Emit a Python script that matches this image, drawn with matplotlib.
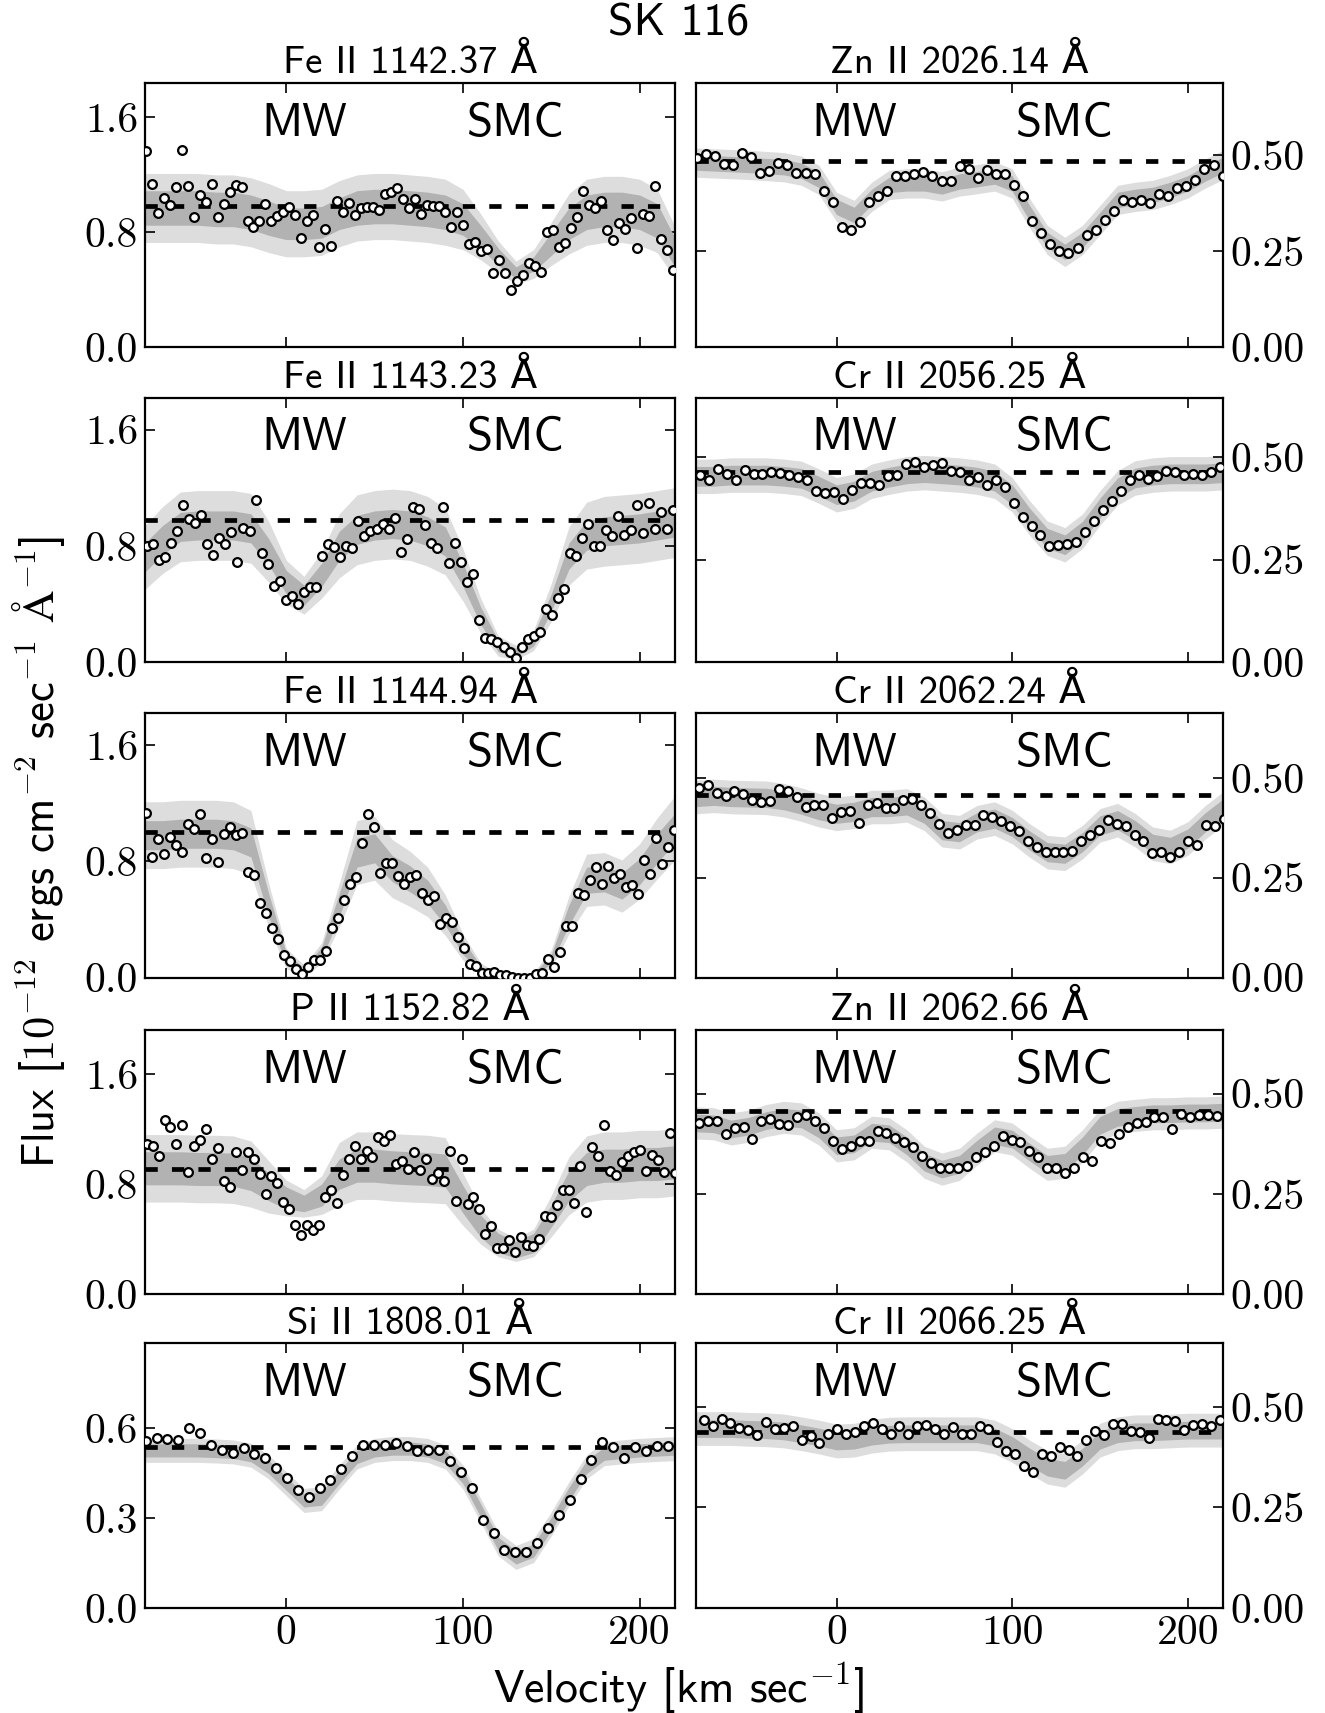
import numpy as np
import matplotlib
matplotlib.use("Agg")
import matplotlib.pyplot as plt

plt.rcParams["mathtext.fontset"] = "cm"
plt.rcParams["font.family"] = ["cmss10", "DejaVu Sans"]
plt.rcParams["axes.unicode_minus"] = False

# model grid for the shaded bands (km/s)
model_v = np.arange(-80, 221, 10)

# ---- Fe II 1142.37 ----
fe1142_vrange = (-79.6, 218.8)
fe1142_flux = [1.363, 1.137, 0.932, 1.037, 0.990, 1.113, 1.374, 1.123, 0.908, 1.060,
               1.009, 1.137, 0.908, 0.997, 1.083, 1.130, 1.113, 0.880, 0.839, 0.880,
               0.997, 0.878, 0.915, 0.943, 0.974, 0.920, 0.764, 0.880, 0.920, 0.699,
               0.827, 0.706, 1.020, 0.943, 1.006, 0.920, 0.967, 0.978, 0.974, 0.955,
               1.067, 1.083, 1.111, 1.032, 0.967, 1.030, 0.927, 0.990, 0.983, 0.983,
               0.939, 0.839, 0.939, 0.850, 0.722, 0.734, 0.669, 0.683, 0.517, 0.610,
               0.517, 0.396, 0.461, 0.505, 0.587, 0.564, 0.524, 0.804, 0.815, 0.699,
               0.729, 0.832, 0.908, 1.090, 0.990, 0.967, 1.018, 0.820, 0.745, 0.862,
               0.822, 0.901, 0.694, 0.927, 0.913, 1.125, 0.757, 0.680, 0.536]
fe1142_model = [0.97, 0.97, 0.97, 0.97, 0.96, 0.96, 0.94, 0.90, 0.86, 0.86, 0.87,
                0.93, 0.97, 0.98, 0.98, 0.97, 0.96, 0.94, 0.89, 0.77, 0.63, 0.52,
                0.58, 0.72, 0.86, 0.94, 0.96, 0.96, 0.94, 0.88, 0.66]
fe1142_w1 = [0.12, 0.12, 0.12, 0.12, 0.12, 0.12, 0.12, 0.12, 0.11, 0.11, 0.11,
             0.11, 0.12, 0.12, 0.12, 0.12, 0.12, 0.12, 0.11, 0.08, 0.06, 0.04,
             0.05, 0.08, 0.11, 0.12, 0.12, 0.12, 0.12, 0.12, 0.10]
fe1142_w2 = [0.24, 0.24, 0.24, 0.24, 0.24, 0.24, 0.24, 0.24, 0.23, 0.23, 0.23,
             0.23, 0.23, 0.23, 0.23, 0.23, 0.23, 0.23, 0.21, 0.16, 0.11, 0.08,
             0.10, 0.15, 0.21, 0.23, 0.23, 0.23, 0.23, 0.22, 0.18]

# ---- Fe II 1143.23 ----
fe1143_vrange = (-79.0, 218.8)
fe1143_flux = [0.802, 0.814, 0.699, 0.722, 0.821, 0.899, 1.079, 0.982, 0.957, 1.010,
               0.814, 0.738, 0.853, 0.814, 0.895, 0.687, 0.922, 0.902, 1.114, 0.752,
               0.676, 0.526, 0.556, 0.429, 0.457, 0.399, 0.480, 0.514, 0.519, 0.729,
               0.814, 0.795, 0.722, 0.802, 0.786, 0.968, 0.865, 0.899, 0.913, 0.952,
               0.913, 0.994, 0.756, 0.849, 1.068, 1.056, 0.945, 0.821, 0.784, 1.068,
               0.680, 0.819, 0.692, 0.553, 0.606, 0.291, 0.166, 0.161, 0.138, 0.106,
               0.069, 0.030, 0.106, 0.157, 0.180, 0.210, 0.364, 0.323, 0.438, 0.503,
               0.752, 0.733, 0.853, 0.952, 0.802, 0.802, 0.906, 0.865, 1.003, 0.872,
               0.906, 1.084, 0.890, 1.095, 0.918, 1.033, 0.918, 1.045]
fe1143_model = [0.72, 0.84, 0.93, 0.94, 0.94, 0.94, 0.92, 0.76, 0.55, 0.46, 0.60,
                0.80, 0.91, 0.94, 0.95, 0.94, 0.90, 0.83, 0.60, 0.32, 0.11, 0.065,
                0.15, 0.41, 0.73, 0.87, 0.90, 0.91, 0.92, 0.94, 0.96]
fe1143_w1 = [0.10, 0.10, 0.10, 0.10, 0.10, 0.10, 0.10, 0.09, 0.08, 0.07, 0.08,
             0.10, 0.10, 0.10, 0.10, 0.10, 0.10, 0.10, 0.08, 0.06, 0.04, 0.03,
             0.04, 0.06, 0.09, 0.10, 0.10, 0.10, 0.10, 0.10, 0.10]
fe1143_w2 = [0.22, 0.23, 0.24, 0.24, 0.24, 0.24, 0.24, 0.21, 0.15, 0.13, 0.16,
             0.22, 0.24, 0.24, 0.24, 0.24, 0.24, 0.23, 0.18, 0.12, 0.07, 0.05,
             0.07, 0.13, 0.20, 0.23, 0.24, 0.24, 0.24, 0.24, 0.24]

# ---- Fe II 1144.94 ----
fe1144_vrange = (-79.6, 219.5)
fe1144_flux = [1.134, 0.830, 0.952, 0.851, 0.968, 0.915, 0.865, 1.054, 1.021, 1.125,
               0.823, 0.957, 0.795, 0.985, 1.033, 0.980, 0.994, 0.726, 0.708, 0.514,
               0.445, 0.341, 0.265, 0.157, 0.111, 0.058, 0.028, 0.074, 0.120, 0.122,
               0.184, 0.339, 0.408, 0.537, 0.646, 0.692, 0.929, 1.125, 1.038, 0.722,
               0.786, 0.786, 0.696, 0.641, 0.692, 0.703, 0.581, 0.535, 0.565, 0.369,
               0.410, 0.380, 0.277, 0.201, 0.092, 0.081, 0.030, 0.030, 0.039, 0.021,
               0.016, 0.003, -0.004, -0.002, 0.000, 0.023, 0.030, 0.131, 0.074, 0.173,
               0.357, 0.357, 0.583, 0.570, 0.673, 0.763, 0.646, 0.768, 0.685, 0.715,
               0.623, 0.634, 0.576, 0.807, 0.715, 0.961, 0.784, 0.899, 1.019]
fe1144_model = [0.98, 0.98, 0.99, 0.99, 0.99, 0.98, 0.93, 0.50, 0.13, 0.046, 0.17,
                0.50, 0.86, 0.89, 0.75, 0.68, 0.59, 0.43, 0.21, 0.06, 0.012, 0.0,
                0.016, 0.13, 0.43, 0.67, 0.68, 0.63, 0.73, 0.89, 1.03]
fe1144_w1 = [0.10, 0.10, 0.10, 0.10, 0.10, 0.10, 0.10, 0.08, 0.04, 0.02, 0.04,
             0.08, 0.10, 0.10, 0.09, 0.09, 0.08, 0.07, 0.05, 0.02, 0.01, 0.01,
             0.01, 0.03, 0.07, 0.09, 0.09, 0.09, 0.09, 0.10, 0.10]
fe1144_w2 = [0.23, 0.23, 0.23, 0.23, 0.23, 0.23, 0.22, 0.15, 0.07, 0.04, 0.07,
             0.15, 0.22, 0.22, 0.20, 0.19, 0.17, 0.14, 0.09, 0.04, 0.02, 0.015,
             0.02, 0.06, 0.13, 0.18, 0.18, 0.18, 0.19, 0.21, 0.22]

# ---- P II 1152.82 ----
p1152_vrange = (-79.0, 220.3)
p1152_flux = [1.093, 1.080, 1.002, 1.268, 1.215, 1.093, 1.227, 0.890, 1.080, 1.117,
              1.202, 0.983, 1.063, 0.820, 0.776, 1.032, 0.902, 1.032, 0.983, 0.873,
              0.727, 0.861, 0.805, 0.671, 0.617, 0.507, 0.429, 0.507, 0.466, 0.507,
              0.707, 0.759, 0.666, 0.866, 0.983, 1.080, 0.983, 1.037, 0.995, 1.141,
              1.112, 1.154, 0.946, 0.971, 0.910, 1.032, 0.902, 0.983, 0.837, 0.878,
              0.824, 1.037, 0.678, 0.983, 0.654, 0.707, 0.617, 0.441, 0.495, 0.337,
              0.337, 0.393, 0.307, 0.417, 0.361, 0.349, 0.402, 0.568, 0.563, 0.646,
              0.756, 0.756, 0.661, 0.934, 0.598, 1.068, 1.002, 1.227, 0.893, 0.868,
              0.959, 1.002, 1.032, 1.051, 0.898, 1.015, 0.976, 0.890, 1.173, 0.880]
p1152_model = [0.915, 0.915, 0.915, 0.91, 0.91, 0.905, 0.873, 0.78, 0.70, 0.66, 0.72,
               0.873, 0.934, 0.934, 0.922, 0.915, 0.91, 0.898, 0.690, 0.495, 0.373,
               0.324, 0.373, 0.568, 0.788, 0.910, 0.934, 0.934, 0.946, 0.946, 0.959]
p1152_w1 = [0.12, 0.12, 0.12, 0.12, 0.12, 0.12, 0.12, 0.10, 0.08, 0.06, 0.08,
            0.11, 0.12, 0.12, 0.12, 0.12, 0.12, 0.12, 0.10, 0.08, 0.07, 0.06,
            0.07, 0.08, 0.11, 0.12, 0.12, 0.12, 0.12, 0.12, 0.12]
p1152_w2 = [0.245, 0.245, 0.245, 0.245, 0.245, 0.245, 0.24, 0.19, 0.13, 0.10, 0.14,
            0.23, 0.245, 0.245, 0.245, 0.245, 0.245, 0.24, 0.19, 0.13, 0.10, 0.085,
            0.10, 0.15, 0.21, 0.24, 0.245, 0.245, 0.245, 0.245, 0.245]

# ---- Si II 1808.01 ----
si1808_vrange = (-79.6, 215.8)
si1808_flux = [0.555, 0.567, 0.564, 0.559, 0.601, 0.584, 0.544, 0.526, 0.516, 0.532,
               0.513, 0.500, 0.467, 0.434, 0.394, 0.369, 0.400, 0.425, 0.464, 0.506,
               0.543, 0.542, 0.542, 0.548, 0.541, 0.522, 0.525, 0.525, 0.488, 0.453,
               0.401, 0.294, 0.248, 0.194, 0.185, 0.185, 0.215, 0.265, 0.309, 0.359,
               0.430, 0.494, 0.553, 0.535, 0.500, 0.536, 0.523, 0.538, 0.539]
si1808_model = [0.525, 0.525, 0.525, 0.525, 0.523, 0.520, 0.509, 0.470, 0.414, 0.358,
                0.364, 0.436, 0.503, 0.525, 0.531, 0.531, 0.525, 0.503, 0.436, 0.325,
                0.213, 0.168, 0.191, 0.280, 0.380, 0.470, 0.514, 0.520, 0.525, 0.528,
                0.531]
si1808_w1 = 0.022
si1808_w2 = 0.040

# ---- Zn II 2026.14 ----
zn2026_vrange = (-79.6, 219.8)
zn2026_flux = [0.491, 0.503, 0.497, 0.477, 0.473, 0.506, 0.494, 0.454, 0.457, 0.478,
               0.473, 0.454, 0.452, 0.451, 0.406, 0.377, 0.313, 0.305, 0.326, 0.378,
               0.392, 0.405, 0.444, 0.444, 0.450, 0.455, 0.445, 0.432, 0.433, 0.470,
               0.463, 0.441, 0.461, 0.450, 0.450, 0.422, 0.393, 0.329, 0.298, 0.268,
               0.251, 0.244, 0.257, 0.293, 0.306, 0.331, 0.354, 0.383, 0.377, 0.383,
               0.376, 0.398, 0.392, 0.415, 0.419, 0.435, 0.463, 0.474, 0.444]
zn2026_model = [0.480, 0.478, 0.476, 0.474, 0.471, 0.468, 0.459, 0.435, 0.365, 0.344,
                0.391, 0.422, 0.426, 0.426, 0.418, 0.431, 0.437, 0.444, 0.426, 0.348,
                0.279, 0.248, 0.279, 0.331, 0.383, 0.391, 0.396, 0.409, 0.426, 0.452,
                0.474]
zn2026_w1 = 0.020
zn2026_w2 = 0.038

# ---- Cr II 2056.25 ----
cr2056_vrange = (-77.9, 218.2)
cr2056_flux = [0.456, 0.444, 0.472, 0.458, 0.444, 0.468, 0.459, 0.459, 0.464, 0.462,
               0.456, 0.451, 0.444, 0.418, 0.413, 0.415, 0.398, 0.419, 0.437, 0.437,
               0.433, 0.453, 0.456, 0.482, 0.488, 0.475, 0.480, 0.486, 0.467, 0.463,
               0.445, 0.452, 0.431, 0.445, 0.427, 0.389, 0.355, 0.333, 0.310, 0.282,
               0.286, 0.288, 0.294, 0.317, 0.345, 0.372, 0.394, 0.418, 0.445, 0.456,
               0.447, 0.453, 0.467, 0.464, 0.456, 0.459, 0.455, 0.464, 0.475]
cr2056_model = [0.453, 0.453, 0.456, 0.456, 0.456, 0.453, 0.448, 0.429, 0.408, 0.417,
                0.441, 0.451, 0.459, 0.462, 0.459, 0.456, 0.451, 0.441, 0.408, 0.351,
                0.302, 0.286, 0.319, 0.376, 0.425, 0.449, 0.456, 0.459, 0.459, 0.459,
                0.462]
cr2056_w1 = 0.024
cr2056_w2 = 0.042

# ---- Cr II 2062.24 ----
cr2062_vrange = (-78.4, 220.3)
cr2062_flux = [0.475, 0.482, 0.461, 0.454, 0.466, 0.460, 0.444, 0.440, 0.442, 0.473,
               0.468, 0.451, 0.427, 0.431, 0.431, 0.400, 0.415, 0.417, 0.388, 0.431,
               0.437, 0.425, 0.425, 0.444, 0.446, 0.433, 0.412, 0.384, 0.362, 0.369,
               0.381, 0.381, 0.408, 0.402, 0.391, 0.379, 0.366, 0.343, 0.327, 0.314,
               0.314, 0.314, 0.318, 0.343, 0.356, 0.369, 0.395, 0.385, 0.379, 0.358,
               0.341, 0.312, 0.314, 0.302, 0.314, 0.342, 0.333, 0.383, 0.379, 0.398]
cr2062_model = [0.452, 0.455, 0.452, 0.451, 0.450, 0.444, 0.433, 0.419, 0.410, 0.415,
                0.427, 0.427, 0.431, 0.410, 0.369, 0.364, 0.389, 0.398, 0.377, 0.343,
                0.314, 0.310, 0.339, 0.381, 0.394, 0.369, 0.335, 0.327, 0.348, 0.389,
                0.423]
cr2062_w1 = 0.024
cr2062_w2 = 0.042

# ---- Zn II 2062.66 ----
zn2062_vrange = (-78.4, 216.6)
zn2062_flux = [0.427, 0.431, 0.431, 0.400, 0.414, 0.416, 0.387, 0.431, 0.437, 0.425,
               0.423, 0.443, 0.446, 0.433, 0.414, 0.383, 0.362, 0.370, 0.381, 0.381,
               0.406, 0.401, 0.390, 0.379, 0.366, 0.345, 0.327, 0.314, 0.314, 0.314,
               0.320, 0.343, 0.355, 0.370, 0.395, 0.385, 0.379, 0.358, 0.341, 0.314,
               0.314, 0.302, 0.314, 0.341, 0.333, 0.383, 0.377, 0.400, 0.418, 0.426,
               0.429, 0.443, 0.443, 0.412, 0.450, 0.443, 0.446, 0.446, 0.444]
zn2062_model = [0.427, 0.425, 0.412, 0.419, 0.433, 0.441, 0.437, 0.412, 0.370, 0.375,
                0.404, 0.400, 0.370, 0.329, 0.312, 0.324, 0.362, 0.395, 0.387, 0.354,
                0.324, 0.329, 0.370, 0.421, 0.441, 0.446, 0.450, 0.450, 0.452, 0.452,
                0.454]
zn2062_w1 = 0.022
zn2062_w2 = 0.040

# ---- Cr II 2066.25 ----
cr2066_vrange = (-75.6, 218.2)
cr2066_flux = [0.468, 0.453, 0.471, 0.460, 0.448, 0.442, 0.429, 0.462, 0.444, 0.448,
               0.453, 0.417, 0.428, 0.411, 0.432, 0.444, 0.432, 0.438, 0.452, 0.461,
               0.446, 0.432, 0.453, 0.432, 0.453, 0.456, 0.444, 0.433, 0.450, 0.432,
               0.433, 0.453, 0.446, 0.412, 0.390, 0.383, 0.354, 0.339, 0.383, 0.378,
               0.400, 0.392, 0.378, 0.418, 0.440, 0.429, 0.457, 0.457, 0.441, 0.438,
               0.423, 0.471, 0.467, 0.464, 0.443, 0.454, 0.457, 0.453, 0.467]
cr2066_model = [0.446, 0.446, 0.446, 0.444, 0.443, 0.440, 0.433, 0.425, 0.415, 0.417,
                0.427, 0.432, 0.433, 0.433, 0.433, 0.433, 0.433, 0.425, 0.404, 0.375,
                0.350, 0.342, 0.375, 0.417, 0.433, 0.438, 0.438, 0.440, 0.442, 0.442,
                0.442]
cr2066_w1 = 0.022
cr2066_w2 = 0.042

# continuum levels and plot ranges
left_titles = ["Fe II 1142.37 Å", "Fe II 1143.23 Å", "Fe II 1144.94 Å",
               "P II 1152.82 Å", "Si II 1808.01 Å"]
right_titles = ["Zn II 2026.14 Å", "Cr II 2056.25 Å", "Cr II 2062.24 Å",
                "Zn II 2062.66 Å", "Cr II 2066.25 Å"]
left_continuum = [0.985, 0.975, 1.003, 0.910, 0.536]
right_continuum = [0.485, 0.463, 0.456, 0.457, 0.438]
left_ymax = [1.84, 1.82, 1.82, 1.92, 0.882]
right_ymax = [0.687, 0.645, 0.662, 0.659, 0.658]

fe_yticks = [0.0, 0.8, 1.6]
fe_yticklabels = ["0.0", "0.8", "1.6"]
si_yticks = [0.0, 0.3, 0.6]
si_yticklabels = ["0.0", "0.3", "0.6"]
nuv_yticks = [0.0, 0.25, 0.50]
nuv_yticklabels = ["0.00", "0.25", "0.50"]
vel_ticks = [0, 100, 200]
vel_ticklabels = ["0", "100", "200"]

left_panels = [
    (fe1142_vrange, fe1142_flux, fe1142_model, fe1142_w1, fe1142_w2),
    (fe1143_vrange, fe1143_flux, fe1143_model, fe1143_w1, fe1143_w2),
    (fe1144_vrange, fe1144_flux, fe1144_model, fe1144_w1, fe1144_w2),
    (p1152_vrange, p1152_flux, p1152_model, p1152_w1, p1152_w2),
    (si1808_vrange, si1808_flux, si1808_model, si1808_w1, si1808_w2),
]
right_panels = [
    (zn2026_vrange, zn2026_flux, zn2026_model, zn2026_w1, zn2026_w2),
    (cr2056_vrange, cr2056_flux, cr2056_model, cr2056_w1, cr2056_w2),
    (cr2062_vrange, cr2062_flux, cr2062_model, cr2062_w1, cr2062_w2),
    (zn2062_vrange, zn2062_flux, zn2062_model, zn2062_w1, zn2062_w2),
    (cr2066_vrange, cr2066_flux, cr2066_model, cr2066_w1, cr2066_w2),
]

LIGHT = "#dddddd"
DARK = "#b2b2b2"


def draw_panel(ax, panel, cont, ymax, title, yticks, ylabels, right, bottom):
    vrange, flux, model, w1, w2 = panel
    flux = np.asarray(flux)
    model = np.asarray(model)
    v = np.linspace(vrange[0], vrange[1], len(flux))

    ax.fill_between(model_v, model - w2, model + w2, color=LIGHT, lw=0, zorder=1)
    ax.fill_between(model_v, model - w1, model + w1, color=DARK, lw=0, zorder=2)
    ax.axhline(cont, color="k", lw=3.4, dashes=(2.6, 3.0), zorder=3)
    ax.plot(v, flux, "o", mfc="white", mec="black", ms=6.3, mew=1.6, zorder=4)

    ax.text(10, 0.80, "MW", transform=ax.get_xaxis_transform(),
            ha="center", va="baseline", fontsize=34)
    ax.text(130, 0.80, "SMC", transform=ax.get_xaxis_transform(),
            ha="center", va="baseline", fontsize=34)

    ax.set_xlim(-80, 220)
    ax.set_ylim(0, ymax)
    ax.set_title(title, fontsize=28, pad=7)

    ax.set_xticks(vel_ticks)
    ax.set_xticklabels(vel_ticklabels, fontfamily="cmr10")
    ax.set_yticks(yticks)
    ax.set_yticklabels(ylabels, fontfamily="cmr10")
    ax.tick_params(direction="in", top=True, bottom=True, left=True, right=True,
                   length=7, width=1.2, labelsize=30, pad=5,
                   labelleft=not right, labelright=right, labelbottom=bottom)
    for s in ax.spines.values():
        s.set_linewidth(1.6)


fig = plt.figure(figsize=(13.25, 17.13), dpi=100)

row_bottoms = [0.7972, 0.6135, 0.4293, 0.2444, 0.0614]
height = 0.1544

for i in range(5):
    axl = fig.add_axes([0.1094, row_bottoms[i], 0.4000, height])
    if i < 4:
        draw_panel(axl, left_panels[i], left_continuum[i], left_ymax[i],
                   left_titles[i], fe_yticks, fe_yticklabels, False, False)
    else:
        draw_panel(axl, left_panels[i], left_continuum[i], left_ymax[i],
                   left_titles[i], si_yticks, si_yticklabels, False, True)

    axr = fig.add_axes([0.5253, row_bottoms[i], 0.3977, height])
    draw_panel(axr, right_panels[i], right_continuum[i], right_ymax[i],
               right_titles[i], nuv_yticks, nuv_yticklabels, True, i == 4)

fig.text(0.512, 0.986, "SK 116", fontsize=33, ha="center", va="center")
fig.text(0.029, 0.503,
         r"Flux [$10^{-12}$ ergs cm$^{-2}$ sec$^{-1}$ $\mathsf{Å}^{-1}$]",
         rotation=90, fontsize=32, ha="center", va="center")
fig.text(0.512, 0.0146, r"Velocity [km sec$^{-1}$]", fontsize=33,
         ha="center", va="center")

fig.savefig("out.png", dpi=100)
